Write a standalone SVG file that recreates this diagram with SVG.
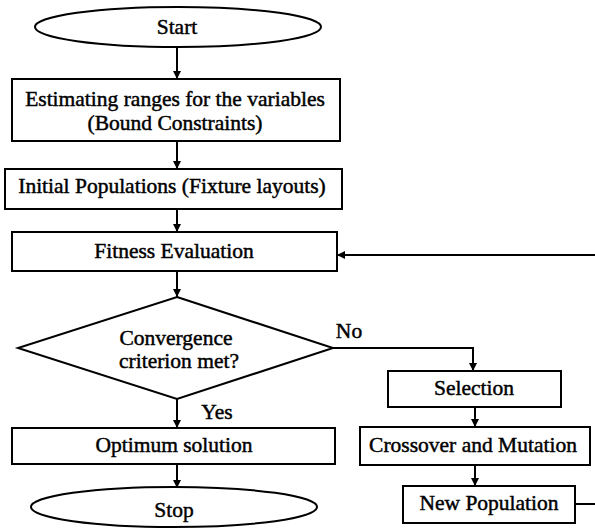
<svg xmlns="http://www.w3.org/2000/svg" width="595" height="529" viewBox="0 0 595 529">
<defs>
<marker id="ah" viewBox="0 0 10 10" refX="10" refY="5" markerWidth="8" markerHeight="8" markerUnits="userSpaceOnUse" orient="auto">
<path d="M0,0 L10,5 L0,10 z" fill="#000"/>
</marker>
</defs>
<style>
.s{fill:#fff;stroke:#000;stroke-width:2}
.t{font-family:"Liberation Serif","Times New Roman",serif;font-size:21.5px;fill:#000;stroke:#000;stroke-width:0.45;text-anchor:middle}
.c{fill:none;stroke:#000;stroke-width:2;marker-end:url(#ah)}
.l{fill:none;stroke:#000;stroke-width:2}
</style>
<rect width="595" height="529" fill="#fff"/>
<g id="connectors">
<line class="c" x1="177" y1="47" x2="177" y2="79"/>
<line class="c" x1="177" y1="141" x2="177" y2="169"/>
<line class="c" x1="177" y1="209" x2="177" y2="232"/>
<line class="c" x1="177" y1="271" x2="177" y2="297"/>
<polyline class="c" points="333,348 473,348 473,371"/>
<line class="c" x1="177" y1="399" x2="177" y2="428"/>
<line class="c" x1="177" y1="464" x2="177" y2="488"/>
<line class="c" x1="475" y1="407" x2="475" y2="427"/>
<line class="c" x1="475" y1="465" x2="475" y2="486"/>
<line class="l" x1="575" y1="504" x2="595" y2="504"/>
<line class="c" x1="595" y1="255" x2="337" y2="255"/>
<text class="t" x="349" y="338">No</text>
<text class="t" x="217" y="419">Yes</text>
</g>
<g id="start">
<ellipse class="s" cx="178" cy="27" rx="143" ry="20"/>
<text class="t" x="177" y="34">Start</text>
</g>
<g id="estimate">
<rect class="s" x="12" y="79" width="328" height="62"/>
<text class="t" x="175" y="106">Estimating ranges for the variables</text>
<text class="t" x="175" y="130">(Bound Constraints)</text>
</g>
<g id="initial">
<rect class="s" x="5" y="169" width="337" height="40"/>
<text class="t" x="172" y="193">Initial Populations (Fixture layouts)</text>
</g>
<g id="fitness">
<rect class="s" x="12" y="232" width="325" height="39"/>
<text class="t" x="174" y="258">Fitness Evaluation</text>
</g>
<g id="decision">
<polygon class="s" points="177,297 333,348 177,399 18,348"/>
<text class="t" x="176" y="345">Convergence</text>
<text class="t" x="179" y="368">criterion met?</text>
</g>
<g id="optimum">
<rect class="s" x="12" y="428" width="323" height="36"/>
<text class="t" x="174" y="452">Optimum solution</text>
</g>
<g id="stop">
<ellipse class="s" cx="174" cy="507" rx="143" ry="20"/>
<text class="t" x="174" y="517">Stop</text>
</g>
<g id="selection">
<rect class="s" x="388" y="371" width="173" height="36"/>
<text class="t" x="474" y="395">Selection</text>
</g>
<g id="crossover">
<rect class="s" x="360" y="427" width="230" height="38"/>
<text class="t" x="473" y="452">Crossover and Mutation</text>
</g>
<g id="newpop">
<rect class="s" x="403" y="486" width="172" height="37"/>
<text class="t" x="489" y="510">New Population</text>
</g>
</svg>
